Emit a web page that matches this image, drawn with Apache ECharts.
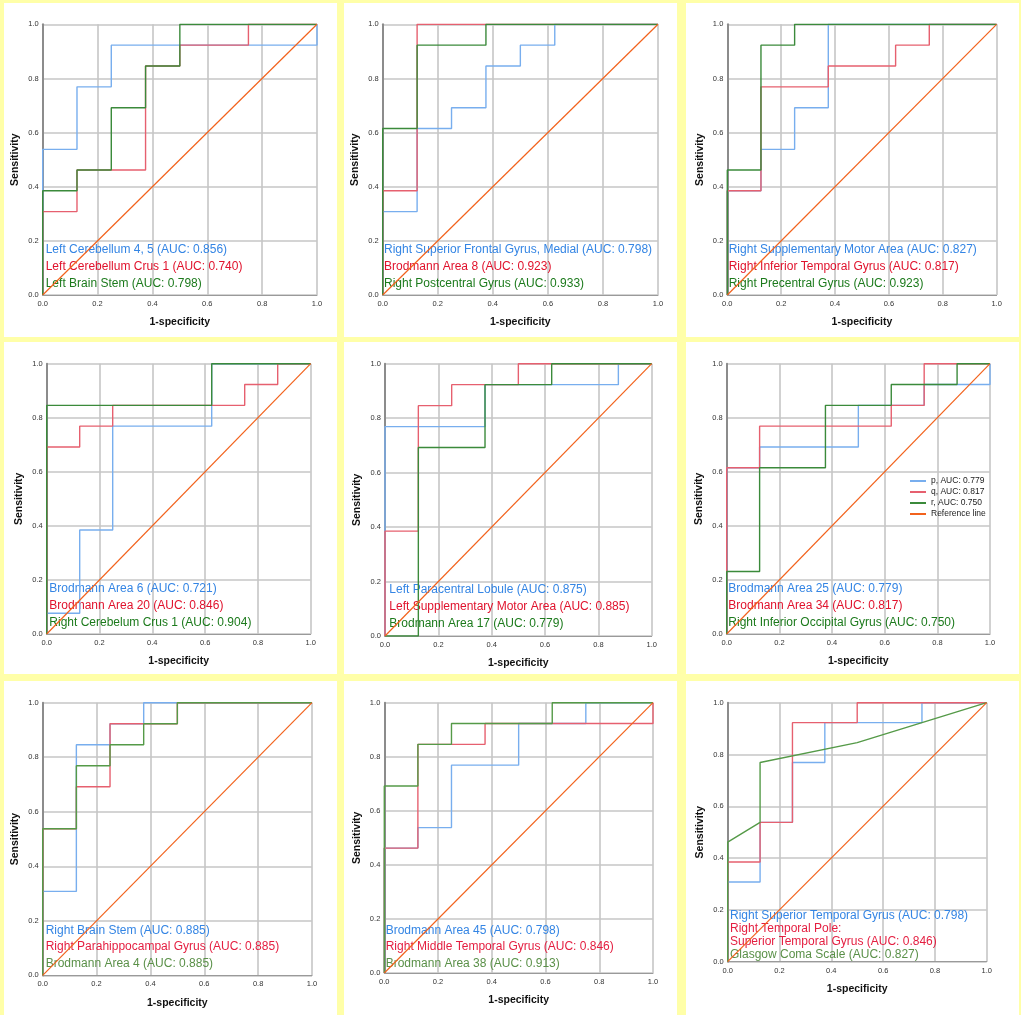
<!DOCTYPE html>
<html>
<head>
<meta charset="utf-8">
<script src="https://cdn.jsdelivr.net/npm/echarts@6/dist/echarts.min.js"></script>
<style>
  html, body { margin: 0; padding: 0; background: #ffffa8; }
  #chart { width: 1021px; height: 1015px; }
</style>
</head>
<body>
<div id="chart"></div>
<script>
// ROC operating points [1-specificity, sensitivity]
const p1Blue  = [[0,0],[0,0.538],[0.125,0.538],[0.125,0.769],[0.25,0.769],[0.25,0.923],[1,0.923],[1,1]];
const p1Red   = [[0,0],[0,0.308],[0.125,0.308],[0.125,0.462],[0.375,0.462],[0.375,0.846],[0.5,0.846],[0.5,0.923],[0.75,0.923],[0.75,1],[1,1]];
const p1Green = [[0,0],[0,0.385],[0.125,0.385],[0.125,0.462],[0.25,0.462],[0.25,0.692],[0.375,0.692],[0.375,0.846],[0.5,0.846],[0.5,1],[1,1]];

const p2Blue  = [[0,0],[0,0.308],[0.125,0.308],[0.125,0.615],[0.25,0.615],[0.25,0.692],[0.375,0.692],[0.375,0.846],[0.5,0.846],[0.5,0.923],[0.625,0.923],[0.625,1],[1,1]];
const p2Red   = [[0,0],[0,0.385],[0.125,0.385],[0.125,1],[1,1]];
const p2Green = [[0,0],[0,0.615],[0.125,0.615],[0.125,0.923],[0.375,0.923],[0.375,1],[1,1]];

const p3Blue  = [[0,0],[0,0.385],[0.125,0.385],[0.125,0.538],[0.25,0.538],[0.25,0.692],[0.375,0.692],[0.375,1],[1,1]];
const p3Red   = [[0,0],[0,0.385],[0.125,0.385],[0.125,0.769],[0.375,0.769],[0.375,0.846],[0.625,0.846],[0.625,0.923],[0.75,0.923],[0.75,1],[1,1]];
const p3Green = [[0,0],[0,0.462],[0.125,0.462],[0.125,0.923],[0.25,0.923],[0.25,1],[1,1]];

const p4Blue  = [[0,0],[0,0.077],[0.125,0.077],[0.125,0.385],[0.25,0.385],[0.25,0.769],[0.625,0.769],[0.625,1],[1,1]];
const p4Red   = [[0,0],[0,0.692],[0.125,0.692],[0.125,0.769],[0.25,0.769],[0.25,0.846],[0.75,0.846],[0.75,0.923],[0.875,0.923],[0.875,1],[1,1]];
const p4Green = [[0,0],[0,0.846],[0.625,0.846],[0.625,1],[1,1]];

const p5Blue  = [[0,0],[0,0.769],[0.375,0.769],[0.375,0.923],[0.875,0.923],[0.875,1],[1,1]];
const p5Red   = [[0,0],[0,0.385],[0.125,0.385],[0.125,0.846],[0.25,0.846],[0.25,0.923],[0.5,0.923],[0.5,1],[1,1]];
const p5Green = [[0,0],[0.125,0],[0.125,0.692],[0.375,0.692],[0.375,0.923],[0.625,0.923],[0.625,1],[1,1]];

const p6Blue  = [[0,0],[0,0.615],[0.125,0.615],[0.125,0.692],[0.5,0.692],[0.5,0.846],[0.75,0.846],[0.75,0.923],[1,0.923],[1,1]];
const p6Red   = [[0,0],[0,0.615],[0.125,0.615],[0.125,0.769],[0.625,0.769],[0.625,0.846],[0.75,0.846],[0.75,1],[1,1]];
const p6Green = [[0,0],[0,0.231],[0.125,0.231],[0.125,0.615],[0.375,0.615],[0.375,0.846],[0.625,0.846],[0.625,0.923],[0.875,0.923],[0.875,1],[1,1]];

const p7Blue  = [[0,0],[0,0.308],[0.125,0.308],[0.125,0.846],[0.25,0.846],[0.25,0.923],[0.375,0.923],[0.375,1],[1,1]];
const p7Red   = [[0,0],[0,0.538],[0.125,0.538],[0.125,0.692],[0.25,0.692],[0.25,0.923],[0.5,0.923],[0.5,1],[1,1]];
const p7Green = [[0,0],[0,0.538],[0.125,0.538],[0.125,0.769],[0.25,0.769],[0.25,0.846],[0.375,0.846],[0.375,0.923],[0.5,0.923],[0.5,1],[1,1]];

const p8Blue  = [[0,0],[0,0.462],[0.125,0.462],[0.125,0.538],[0.25,0.538],[0.25,0.769],[0.5,0.769],[0.5,0.923],[0.75,0.923],[0.75,1],[1,1]];
const p8Red   = [[0,0],[0,0.462],[0.125,0.462],[0.125,0.846],[0.375,0.846],[0.375,0.923],[1,0.923],[1,1]];
const p8Green = [[0,0],[0,0.692],[0.125,0.692],[0.125,0.846],[0.25,0.846],[0.25,0.923],[0.625,0.923],[0.625,1],[1,1]];

const p9Blue  = [[0,0],[0,0.308],[0.125,0.308],[0.125,0.538],[0.25,0.538],[0.25,0.769],[0.375,0.769],[0.375,0.923],[0.75,0.923],[0.75,1],[1,1]];
const p9Red   = [[0,0],[0,0.385],[0.125,0.385],[0.125,0.538],[0.25,0.538],[0.25,0.923],[0.5,0.923],[0.5,1],[1,1]];
const p9Green = [[0,0],[0,0.462],[0.125,0.538],[0.125,0.769],[0.5,0.846],[0.75,0.923],[1,1]];

const refLine = [[0,0],[1,1]];

// text shown inside each plot
const labels1 = ['Left Cerebellum 4, 5 (AUC: 0.856)', 'Left Cerebellum Crus 1 (AUC: 0.740)', 'Left Brain Stem (AUC: 0.798)'];
const labels2 = ['Right Superior Frontal Gyrus, Medial (AUC: 0.798)', 'Brodmann Area 8 (AUC: 0.923)', 'Right Postcentral Gyrus (AUC: 0.933)'];
const labels3 = ['Right Supplementary Motor Area (AUC: 0.827)', 'Right Inferior Temporal Gyrus (AUC: 0.817)', 'Right Precentral Gyrus (AUC: 0.923)'];
const labels4 = ['Brodmann Area 6 (AUC: 0.721)', 'Brodmann Area 20 (AUC: 0.846)', 'Right Cerebelum Crus 1 (AUC: 0.904)'];
const labels5 = ['Left Paracentral Lobule (AUC: 0.875)', 'Left Supplementary Motor Area (AUC: 0.885)', 'Brodmann Area 17 (AUC: 0.779)'];
const labels6 = ['Brodmann Area 25 (AUC: 0.779)', 'Brodmann Area 34 (AUC: 0.817)', 'Right Inferior Occipital Gyrus (AUC: 0.750)'];
const labels7 = ['Right Brain Stem (AUC: 0.885)', 'Right Parahippocampal Gyrus (AUC: 0.885)', 'Brodmann Area 4 (AUC: 0.885)'];
const labels8 = ['Brodmann Area 45 (AUC: 0.798)', 'Right Middle Temporal Gyrus (AUC: 0.846)', 'Brodmann Area 38 (AUC: 0.913)'];
const labels9 = ['Right Superior Temporal Gyrus (AUC: 0.798)', 'Right Temporal Pole:', 'Superior Temporal Gyrus (AUC: 0.846)', 'Glasgow Coma Scale (AUC: 0.827)'];

const legend6 = ['p, AUC: 0.779', 'q, AUC: 0.817', 'r, AUC: 0.750', 'Reference line'];

const FONT = '"Liberation Sans", Arial, sans-serif';
const BLUE = '#78aeee', RED = '#e6606f', GREEN = '#3b8a3b', GREEN_L = '#559a48', ORANGE = '#f2621c';
const T_BLUE = '#3485e4', T_RED = '#e0122c', T_GREEN = '#1c7a1c', T_GREEN_L = '#5a9048', T_RED_L = '#e41e40';

// plot rectangles [left, top, width, height]; text block [x, firstY, lineStep]
const panels = [
  { rect: [42.7, 24.3, 274.3, 270.7],  curves: [p1Blue, p1Red, p1Green], labels: labels1, text: [45.7, 250, 16.6], tc: [T_BLUE, T_RED, T_GREEN], green: GREEN },
  { rect: [382.7, 24.3, 275.3, 270.7], curves: [p2Blue, p2Red, p2Green], labels: labels2, text: [384, 250, 16.8], tc: [T_BLUE, T_RED, T_GREEN], green: GREEN },
  { rect: [727.3, 24.3, 269.3, 270.7], curves: [p3Blue, p3Red, p3Green], labels: labels3, text: [728.7, 249.5, 17], tc: [T_BLUE, T_RED, T_GREEN], green: GREEN },
  { rect: [46.7, 363.7, 264, 270.3],   curves: [p4Blue, p4Red, p4Green], labels: labels4, text: [49.3, 589, 17], tc: [T_BLUE, T_RED, T_GREEN], green: GREEN },
  { rect: [385, 363.7, 266.7, 272.3],  curves: [p5Blue, p5Red, p5Green], labels: labels5, text: [389.3, 589.7, 17], tc: [T_BLUE, T_RED, T_GREEN], green: GREEN },
  { rect: [726.7, 363.7, 263.3, 270.3], curves: [p6Blue, p6Red, p6Green], labels: labels6, text: [728.3, 589, 17], tc: [T_BLUE, T_RED, T_GREEN], green: GREEN, names: legend6 },
  { rect: [42.7, 702.7, 269.3, 272.7], curves: [p7Blue, p7Red, p7Green], labels: labels7, text: [45.7, 930.3, 16.5], tc: [T_BLUE, T_RED_L, T_GREEN_L], green: GREEN_L },
  { rect: [384.3, 702.7, 268.7, 270.3], curves: [p8Blue, p8Red, p8Green], labels: labels8, text: [385.7, 930.3, 16.5], tc: [T_BLUE, T_RED_L, T_GREEN_L], green: GREEN_L },
  { rect: [727.7, 702.7, 259, 259],    curves: [p9Blue, p9Red, p9Green], labels: labels9, text: [730, 916, 13], tc: [T_BLUE, T_RED_L, T_RED_L, T_GREEN_L], green: GREEN_L }
];

// white panel backgrounds on the yellow page
const colX = [4, 344, 686], colW = [333, 333, 333];
const rowY = [3, 342, 681], rowH = [334, 332, 334];

const grid = [], xAxis = [], yAxis = [], series = [], graphic = [];

for (let r = 0; r < 3; r++) {
  for (let c = 0; c < 3; c++) {
    graphic.push({
      type: 'rect', z: -10, silent: true,
      shape: { x: colX[c], y: rowY[r], width: colW[c], height: rowH[r] },
      style: { fill: '#ffffff' }
    });
  }
}

panels.forEach((p, i) => {
  grid.push({ left: p.rect[0], top: p.rect[1], width: p.rect[2], height: p.rect[3] });

  const common = {
    type: 'value', gridIndex: i, min: 0, max: 1, interval: 0.2,
    nameLocation: 'middle', nameGap: 22,
    nameTextStyle: { fontFamily: FONT, fontWeight: 'bold', fontSize: 10.5, color: '#111' },
    axisTick: { show: false },
    axisLabel: { fontFamily: FONT, fontSize: 7.5, color: '#333', formatter: v => v.toFixed(1) },
    splitLine: { show: true, lineStyle: { color: '#c6c6c6', width: 1.6 } }
  };
  xAxis.push(Object.assign({}, common, {
    name: '1-specificity',
    axisLabel: Object.assign({}, common.axisLabel, { margin: 5 }),
    axisLine: { show: true, onZero: false, lineStyle: { color: '#9a9a9a', width: 1 } }
  }));
  yAxis.push(Object.assign({}, common, {
    name: 'Sensitivity', nameRotate: 90,
    axisLabel: Object.assign({}, common.axisLabel, { margin: 4 }),
    axisLine: { show: true, onZero: false, lineStyle: { color: '#8c8c8c', width: 2 } }
  }));

  const cols = [BLUE, RED, p.green];
  p.curves.forEach((d, k) => {
    series.push({
      type: 'line', name: p.names ? p.names[k] : p.labels[k],
      xAxisIndex: i, yAxisIndex: i, data: d,
      symbol: 'none', showSymbol: false, silent: true,
      lineStyle: { color: cols[k], width: 1.4 }, itemStyle: { color: cols[k] },
      z: 2
    });
  });
  series.push({
    type: 'line', name: 'Reference line', xAxisIndex: i, yAxisIndex: i, data: refLine,
    symbol: 'none', showSymbol: false, silent: true,
    lineStyle: { color: ORANGE, width: 1.2 }, itemStyle: { color: ORANGE }, z: 3
  });

  p.labels.forEach((t, k) => {
    graphic.push({
      type: 'text', z: 1, silent: true,
      x: p.text[0], y: p.text[1] + k * p.text[2],
      style: { text: t, fill: p.tc[k], font: '12px ' + FONT, textVerticalAlign: 'middle', verticalAlign: 'middle' }
    });
  });
});

const chart = echarts.init(document.getElementById('chart'), null, { renderer: 'canvas' });
chart.setOption({
  animation: false,
  backgroundColor: '#ffffa8',
  grid, xAxis, yAxis, series, graphic,
  legend: {
    data: legend6, orient: 'vertical', left: 910, top: 476,
    itemWidth: 16, itemHeight: 2, itemGap: 1, icon: 'rect', padding: 0,
    selectedMode: false,
    textStyle: { fontFamily: FONT, fontSize: 8.5, color: '#222', lineHeight: 10 }
  }
});
</script>
</body>
</html>
